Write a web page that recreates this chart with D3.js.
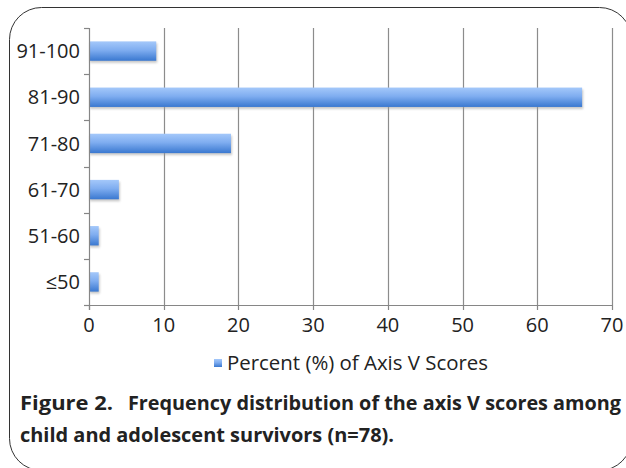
<!DOCTYPE html>
<html>
<head>
<meta charset="utf-8">
<script src="https://cdn.jsdelivr.net/npm/d3@7"></script>
<style>
  body { margin: 0; background: #fff; }
  svg text { font-family: "Open Sans", "Noto Sans", sans-serif; fill: #222; }
</style>
</head>
<body>
<div id="chart"></div>
<script>
// data (percent of axis V scores, n=78)
const categories = ['91-100', '81-90', '71-80', '61-70', '51-60', '\u226450'];
const percents = [9, 66, 19, 4, 1.3, 1.3];
const xTicks = [0, 10, 20, 30, 40, 50, 60, 70];
const legendLabel = 'Percent (%) of Axis V Scores';
const captionHead = 'Figure 2.';
const captionLine1 = 'Frequency distribution of the axis V scores among';
const captionLine2 = 'child and adolescent survivors (n=78).';

const width = 626;
const height = 468;
const plot = { left: 89, right: 612, top: 28, bottom: 305 };

const svg = d3.select('#chart').append('svg')
  .attr('width', width)
  .attr('height', height);

const defs = svg.append('defs');
const grad = defs.append('linearGradient')
  .attr('id', 'barGrad')
  .attr('x1', 0).attr('y1', 0).attr('x2', 0).attr('y2', 1);
grad.append('stop').attr('offset', '0%').attr('stop-color', '#a4c8fa');
grad.append('stop').attr('offset', '45%').attr('stop-color', '#7fadf0');
grad.append('stop').attr('offset', '100%').attr('stop-color', '#3a78d0');

const shadow = defs.append('filter').attr('id', 'shadow')
  .attr('x', '-10%').attr('y', '-30%').attr('width', '130%').attr('height', '180%');
shadow.append('feGaussianBlur').attr('stdDeviation', 1.2);

// rounded frame around the figure
svg.append('rect')
  .attr('x', 9.5).attr('y', 7.5)
  .attr('width', 622).attr('height', 463)
  .attr('rx', 32).attr('ry', 32)
  .attr('fill', 'none')
  .attr('stroke', '#333')
  .attr('stroke-width', 1);

const x = d3.scaleLinear()
  .domain([0, 70])
  .range([plot.left, plot.right]);

const y = d3.scaleBand()
  .domain(categories)
  .range([plot.top, plot.bottom])
  .paddingInner(0.58)
  .paddingOuter(0.29);

// vertical gridlines
svg.append('g')
  .selectAll('line')
  .data(xTicks.slice(1))
  .enter().append('line')
  .attr('x1', d => Math.round(x(d)) + 0.5)
  .attr('x2', d => Math.round(x(d)) + 0.5)
  .attr('y1', plot.top)
  .attr('y2', plot.bottom)
  .attr('stroke', '#8c8c8c')
  .attr('stroke-width', 1.2);

// bars with a soft shadow
const bars = svg.append('g');
bars.selectAll('.shadow')
  .data(percents)
  .enter().append('rect')
  .attr('class', 'shadow')
  .attr('x', x(0) + 1)
  .attr('y', (d, i) => y(categories[i]) + 2)
  .attr('width', d => x(d) - x(0))
  .attr('height', y.bandwidth())
  .attr('fill', '#9a9a9a')
  .attr('opacity', 0.55)
  .attr('filter', 'url(#shadow)');

bars.selectAll('.bar')
  .data(percents)
  .enter().append('rect')
  .attr('class', 'bar')
  .attr('x', x(0))
  .attr('y', (d, i) => y(categories[i]))
  .attr('width', d => x(d) - x(0))
  .attr('height', y.bandwidth())
  .attr('fill', 'url(#barGrad)');

// y axis: line + ticks at band boundaries
const yAxis = svg.append('g');
yAxis.append('line')
  .attr('x1', plot.left + 0.5).attr('x2', plot.left + 0.5)
  .attr('y1', plot.top).attr('y2', plot.bottom + 5)
  .attr('stroke', '#868686').attr('stroke-width', 1.2);
const bounds = d3.range(categories.length + 1).map(i => plot.top + i * y.step());
yAxis.selectAll('.ytick')
  .data(bounds)
  .enter().append('line')
  .attr('x1', plot.left - 5).attr('x2', plot.left)
  .attr('y1', d => Math.round(d) + 0.5)
  .attr('y2', d => Math.round(d) + 0.5)
  .attr('stroke', '#868686').attr('stroke-width', 1.2);
yAxis.selectAll('text')
  .data(categories)
  .enter().append('text')
  .attr('x', plot.left - 9)
  .attr('y', d => y(d) + y.bandwidth() / 2)
  .attr('dy', '0.36em')
  .attr('text-anchor', 'end')
  .style('font-size', '20px')
  .text(d => d);

// x axis
const xAxis = svg.append('g');
xAxis.append('line')
  .attr('x1', plot.left - 5).attr('x2', plot.right + 1)
  .attr('y1', plot.bottom + 0.5).attr('y2', plot.bottom + 0.5)
  .attr('stroke', '#868686').attr('stroke-width', 1.2);
xAxis.selectAll('.xtick')
  .data(xTicks)
  .enter().append('line')
  .attr('x1', d => Math.round(x(d)) + 0.5)
  .attr('x2', d => Math.round(x(d)) + 0.5)
  .attr('y1', plot.bottom)
  .attr('y2', plot.bottom + 5)
  .attr('stroke', '#868686').attr('stroke-width', 1.2);
xAxis.selectAll('text')
  .data(xTicks)
  .enter().append('text')
  .attr('x', d => x(d))
  .attr('y', plot.bottom + 27)
  .attr('text-anchor', 'middle')
  .style('font-size', '20px')
  .text(d => d);

// legend
const legend = svg.append('g').attr('transform', 'translate(214,359)');
legend.append('rect')
  .attr('width', 8).attr('height', 8)
  .attr('fill', 'url(#barGrad)');
legend.append('text')
  .attr('x', 13)
  .attr('y', 11)
  .attr('textLength', 261).attr('lengthAdjust', 'spacingAndGlyphs')
  .style('font-size', '20px')
  .text(legendLabel);

// caption
const cap = svg.append('g').style('font-weight', 'bold');
cap.append('text')
  .attr('x', 20).attr('y', 410)
  .attr('textLength', 93).attr('lengthAdjust', 'spacingAndGlyphs')
  .style('font-size', '19px')
  .text(captionHead);
cap.append('text')
  .attr('x', 128).attr('y', 410)
  .attr('textLength', 493).attr('lengthAdjust', 'spacingAndGlyphs')
  .style('font-size', '19px')
  .text(captionLine1);
cap.append('text')
  .attr('x', 20).attr('y', 442)
  .attr('textLength', 374).attr('lengthAdjust', 'spacingAndGlyphs')
  .style('font-size', '19px')
  .text(captionLine2);
</script>
</body>
</html>
